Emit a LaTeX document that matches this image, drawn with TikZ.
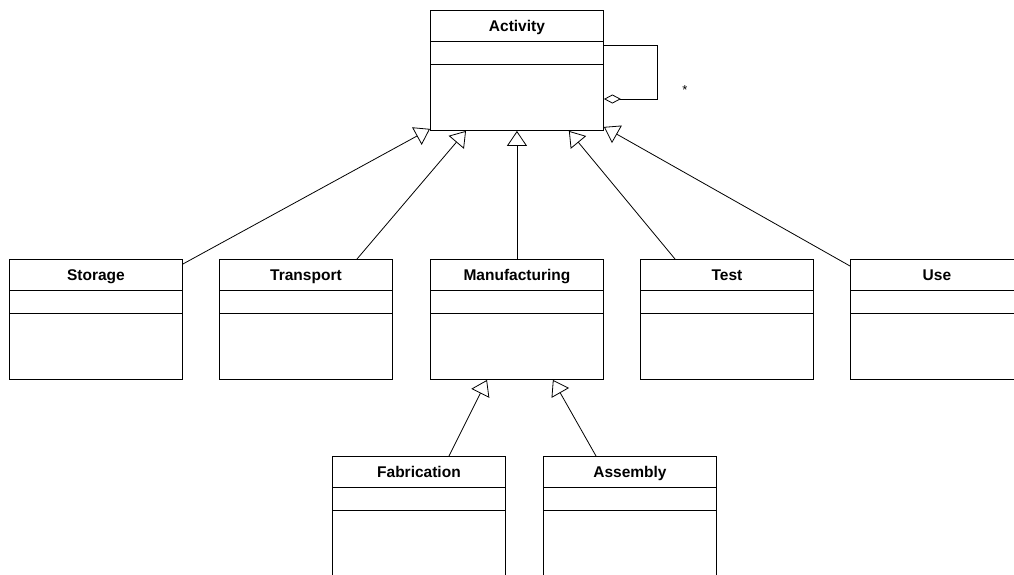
\documentclass[tikz,border=0pt]{standalone}
\usepackage{fontspec}
\setmainfont{Liberation Sans}
\usetikzlibrary{arrows.meta}
\begin{document}
\begin{tikzpicture}[x=1pt,y=-1pt,
  umlbox/.style={draw, line width=0.9pt, minimum width=173pt, minimum height=120pt, inner sep=0pt, anchor=north west},
  umltitle/.style={font=\bfseries\fontsize{15.5pt}{18pt}\selectfont, inner sep=0pt, anchor=base},
  compline/.style={line width=0.9pt},
  gen/.style={draw, line width=0.8pt, -{Triangle[open, length=15pt, width=20pt, line width=0.8pt]}},
  agg/.style={draw, line width=0.8pt, -{Diamond[open, length=17pt, width=9pt, line width=0.8pt]}},
  mult/.style={font=\fontsize{13pt}{15pt}\selectfont, inner sep=0pt}]
\useasboundingbox (0,0) rectangle (1014,574);
\clip (0,0) rectangle (1014,574);
\fill[white] (0,0) rectangle (1014,574);
% boxes
\node[umlbox] (act) at (430,10) {};
\node[umlbox] (stor) at (9,259) {};
\node[umlbox] (trans) at (219,259) {};
\node[umlbox] (manu) at (430,259) {};
\node[umlbox] (test) at (640,259) {};
\node[umlbox] (use) at (850,259) {};
\node[umlbox] (fab) at (332,456) {};
\node[umlbox] (ass) at (543,456) {};
% titles
\node[umltitle] (act-t) at ([yshift=-21.5pt]act.north) {Activity};
\node[umltitle] (stor-t) at ([yshift=-21.5pt]stor.north) {Storage};
\node[umltitle] (trans-t) at ([yshift=-21.5pt]trans.north) {Transport};
\node[umltitle] (manu-t) at ([yshift=-21.5pt]manu.north) {Manufacturing};
\node[umltitle] (test-t) at ([yshift=-21.5pt]test.north) {Test};
\node[umltitle] (use-t) at ([yshift=-21.5pt]use.north) {Use};
\node[umltitle] (fab-t) at ([yshift=-21.5pt]fab.north) {Fabrication};
\node[umltitle] (ass-t) at ([yshift=-21.5pt]ass.north) {Assembly};
% compartments
\foreach \b in {act,stor,trans,manu,test,use,fab,ass}{
  \draw[compline] ([yshift=-31.5pt]\b.north west) -- ([yshift=-31.5pt]\b.north east);
  \draw[compline] ([yshift=-54pt]\b.north west) -- ([yshift=-54pt]\b.north east);
}
% generalizations
\draw[gen] ([yshift=-5pt]stor.north east) -- ([yshift=2pt]act.south west);
\draw[gen] ([xshift=138pt]trans.north west) -- ([xshift=36pt]act.south west);
\draw[gen] (manu.north) -- (act.south);
\draw[gen] ([xshift=35pt]test.north west) -- ([xshift=-35pt]act.south east);
\draw[gen] ([yshift=-7pt]use.north west) -- ([yshift=4pt]act.south east);
\draw[gen] ([xshift=117pt]fab.north west) -- ([xshift=57pt]manu.south west);
\draw[gen] ([xshift=53pt]ass.north west) -- ([xshift=-51pt]manu.south east);
% self aggregation
\coordinate (loopA) at (657,45);
\coordinate (loopB) at (657,99);
\draw[agg] ([yshift=-35pt]act.north east) -- (loopA) -- (loopB) -- ([yshift=-89pt]act.north east);
\node[mult] (star) at (685,90) {*};
\end{tikzpicture}
\end{document}
